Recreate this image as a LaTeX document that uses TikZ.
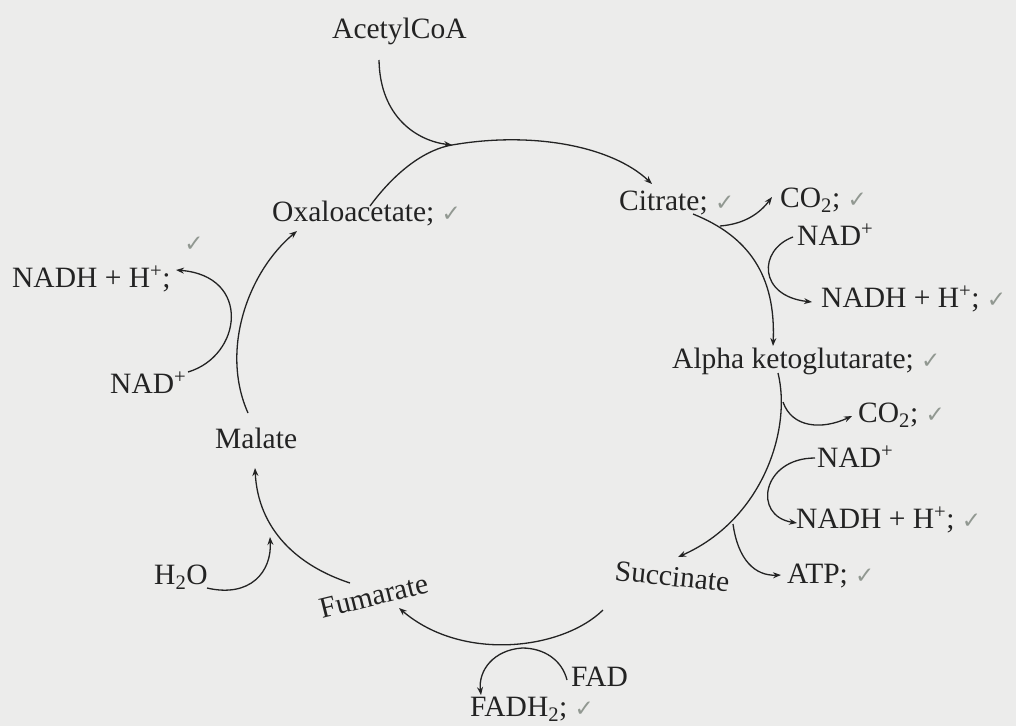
\documentclass[tikz,border=0pt]{standalone}
\usepackage{fontspec}
\setmainfont{Liberation Serif}
\newfontfamily\symfont{DejaVu Sans}
\usetikzlibrary{arrows.meta}
\definecolor{bg}{RGB}{236,236,235}
\definecolor{ink}{RGB}{35,35,35}
\definecolor{tick}{RGB}{145,152,145}
\newcommand{\ck}{{\symfont\color{tick}\fontsize{23}{23}\selectfont ✓}}
\begin{document}
\begin{tikzpicture}[x=1pt,y=-1pt,
  lbl/.style={inner sep=0pt, anchor=base west, font=\fontsize{29.5}{33}\selectfont, text=ink},
  flow/.style={draw=ink, line width=1.3pt, -{Stealth[length=8pt,width=6pt]}},
  side/.style={draw=ink, line width=1.3pt}]
\fill[bg] (0,0) rectangle (1016,726);
\useasboundingbox (0,0) rectangle (1016,726);
% labels
\node[lbl] (acetyl) at (332,38) {AcetylCoA};
\node[lbl] (oxalo) at (272,221) {Oxaloacetate; \ck};
\node[lbl] (citrate) at (619,210) {Citrate; \ck};
\node[lbl] (co2a) at (780,207) {CO\textsubscript{2}; \ck};
\node[lbl] (nada) at (797,245) {NAD\textsuperscript{+}};
\node[lbl] (nadha) at (821,307) {NADH + H\textsuperscript{+}; \ck};
\node[lbl] (akg) at (672,368) {Alpha ketoglutarate; \ck};
\node[lbl] (co2b) at (858,422) {CO\textsubscript{2}; \ck};
\node[lbl] (nadb) at (817,467) {NAD\textsuperscript{+}};
\node[lbl] (nadhb) at (796,528) {NADH + H\textsuperscript{+}; \ck};
\node[lbl] (atp) at (787,583) {ATP; \ck};
\node[lbl, rotate=-6] (succ) at (614,580) {Succinate};
\node[lbl, rotate=14] (fum) at (322,619) {Fumarate};
\node[lbl] (fad) at (571,686) {FAD};
\node[lbl] (fadh) at (470,716) {FADH\textsubscript{2}; \ck};
\node[lbl] (h2o) at (154,584) {H\textsubscript{2}O};
\node[lbl] (malate) at (215,448) {Malate};
\node[lbl] (nadc) at (110,393) {NAD\textsuperscript{+}};
\node[lbl] (nadhc) at (12,287) {NADH + H\textsuperscript{+};};
\node[inner sep=0pt] (ckc) at (194,244) {\ck};
% junction / end coordinates
\coordinate (jA) at (452,145);
\coordinate (aS) at (379,60);
\coordinate (oS) at (370,206);
\coordinate (cE) at (652,184);
\coordinate (cS) at (693,214);
\coordinate (kE) at (773,346);
\coordinate (jC) at (720,226);
\coordinate (co2aE) at (772,197);
\coordinate (nadaS) at (793,237);
\coordinate (nadhaE) at (812,302);
\coordinate (kS) at (778,373);
\coordinate (sE) at (678,557);
\coordinate (jK) at (783,402);
\coordinate (co2bE) at (852,416);
\coordinate (nadbS) at (815,458);
\coordinate (nadhbE) at (797,523);
\coordinate (jS) at (733,524);
\coordinate (atpE) at (781,575);
\coordinate (sS) at (603,610);
\coordinate (fE) at (399,608);
\coordinate (jF) at (522,648);
\coordinate (fadS) at (567,680);
\coordinate (fadhE) at (481,695);
\coordinate (fS) at (350,583);
\coordinate (mE) at (255,468);
\coordinate (h2oS) at (207,588);
\coordinate (jH) at (270,537);
\coordinate (mS) at (248,413);
\coordinate (oE) at (297,231);
\coordinate (nadcS) at (188,372);
\coordinate (nadhcE) at (176,270);
% Acetyl CoA + oxaloacetate -> citrate
\draw[flow] (aS) .. controls (380,118) and (418,141) .. (jA);
\draw[flow] (oS) .. controls (398,168) and (428,149) .. (jA) .. controls (532,131) and (612,146) .. (cE);
% citrate -> alpha KG
\draw[flow] (cS) .. controls (748,236) and (776,275) .. (kE);
\draw[flow] (jC) .. controls (745,224) and (760,213) .. (co2aE);
\draw[flow] (nadaS) .. controls (758,250) and (758,296) .. (nadhaE);
% alpha KG -> succinate
\draw[flow] (kS) .. controls (792,430) and (762,520) .. (sE);
\draw[flow] (jK) .. controls (792,428) and (822,430) .. (co2bE);
\draw[flow] (nadbS) .. controls (762,458) and (752,516) .. (nadhbE);
\draw[flow] (jS) .. controls (738,560) and (755,576) .. (atpE);
% succinate -> fumarate
\draw[flow] (sS) .. controls (562,650) and (462,662) .. (fE);
\draw[side] (fadS) .. controls (562,660) and (544,648) .. (jF);
\draw[flow] (jF) .. controls (494,650) and (478,670) .. (fadhE);
% fumarate -> malate
\draw[flow] (fS) .. controls (298,566) and (258,530) .. (mE);
\draw[flow] (h2oS) .. controls (250,598) and (272,572) .. (jH);
% malate -> oxaloacetate
\draw[flow] (mS) .. controls (220,350) and (248,272) .. (oE);
\draw[flow] (nadcS) .. controls (242,356) and (252,276) .. (nadhcE);
\end{tikzpicture}
\end{document}
